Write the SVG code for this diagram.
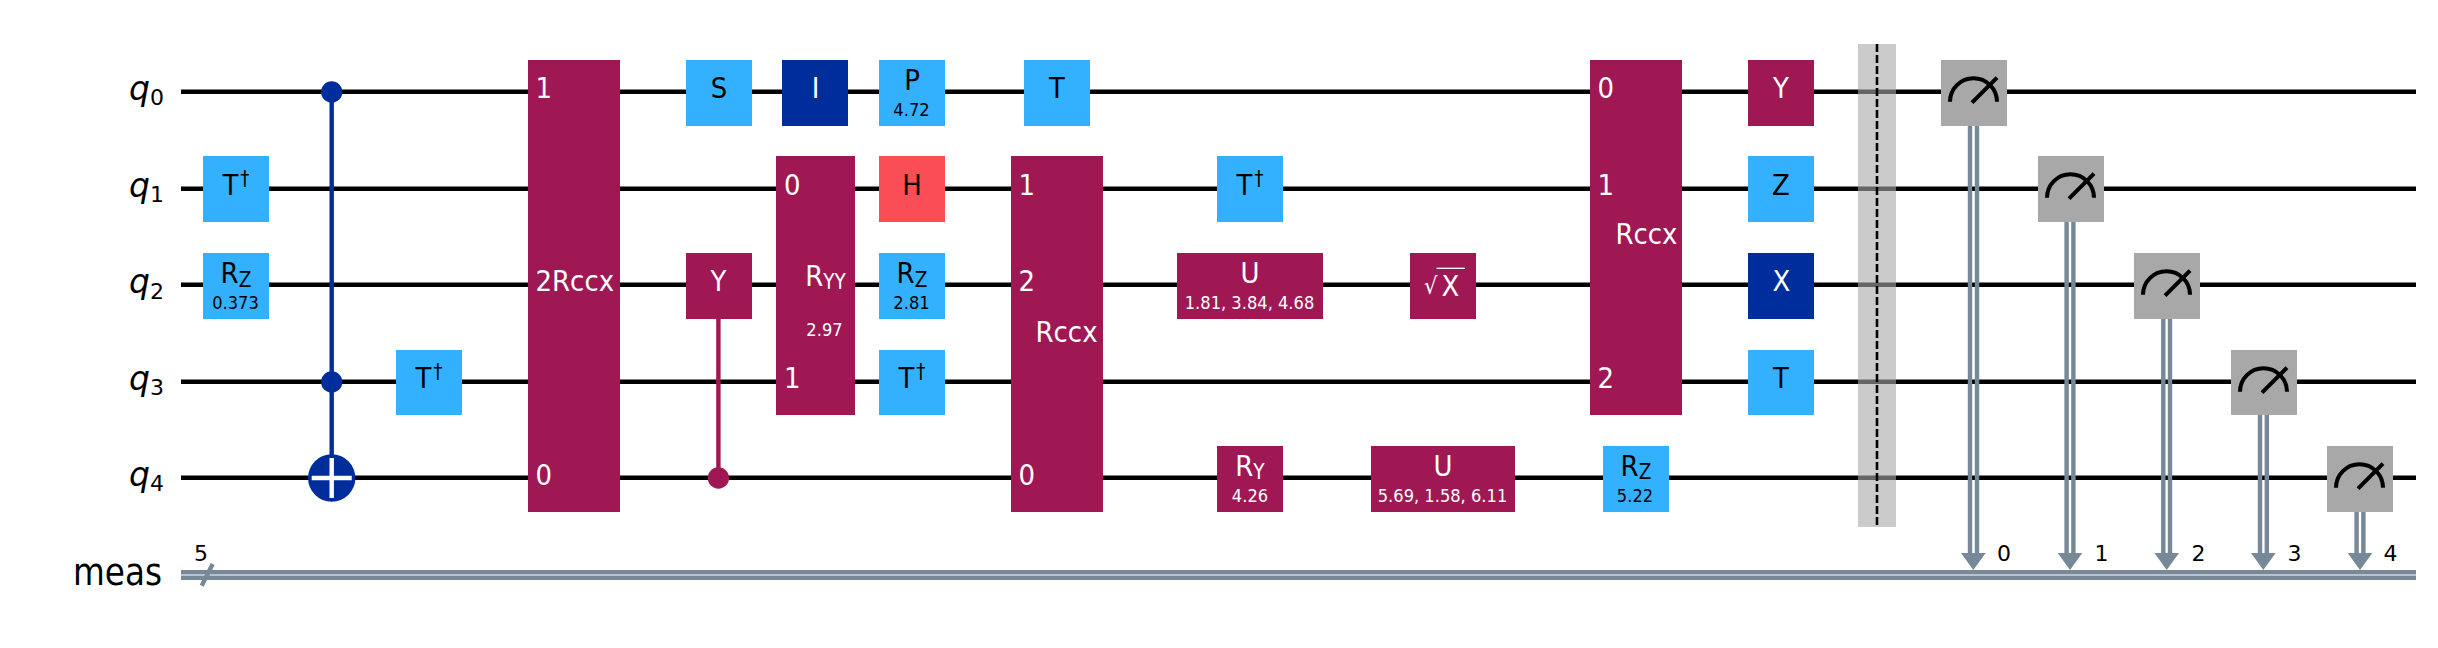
<svg xmlns="http://www.w3.org/2000/svg" width="2438" height="648" viewBox="0 0 2438 648">
<style>
text{font-family:"DejaVu Sans",sans-serif;font-size:26px;fill:#000}
.w{fill:#fff}
.c{text-anchor:middle}
.p{font-size:16.300px}
.s{font-size:18.500px}
.l{font-size:22px}
.b{fill:#33b1ff}.m{fill:#9f1853}.d{fill:#002d9c}.r{fill:#fa4d56}.g{fill:#a8a8a8}
.wire{stroke:#000;stroke-width:4.4;fill:none}
.cl{stroke:#778899;stroke-width:4.4;fill:none}
.q{font-size:33px;font-style:italic}
.sb{font-size:22px;font-style:normal}
.meter{fill:none;stroke:#000;stroke-width:4}
</style>
<defs>
<g id="meter"><path class="meter" d="M9 41.700A23.500 23.500 0 0 1 56 41.700M31 42.700L56 17.700"/></g>
</defs>
<rect width="2438" height="648" fill="#fff"/>
<g id="labels">
<text class="q" x="129" y="100">q<tspan class="sb" x="150" y="105">0</tspan></text>
<text class="q" x="129" y="197">q<tspan class="sb" x="150" y="202">1</tspan></text>
<text class="q" x="129" y="293">q<tspan class="sb" x="150" y="298.500">2</tspan></text>
<text class="q" x="129" y="390">q<tspan class="sb" x="150" y="395">3</tspan></text>
<text class="q" x="129" y="486">q<tspan class="sb" x="150" y="491">4</tspan></text>
<text x="73" transform="matrix(1 0 0 1.120 0 585)" style="font-size:32.700px">meas</text>
<text class="l c" x="201" y="561">5</text>
</g>
<g id="connectors">
<path class="wire" d="M181 91.700H2416M181 188.700H2416M181 284.700H2416M181 381.700H2416M181 477.700H2416"/>
<path class="cl" d="M181 572.300H2416M181 577.800H2416M201.700 585.700L212.700 564"/>
<path stroke="#002d9c" stroke-width="4.400" d="M331.700 92V478"/>
<path stroke="#9f1853" stroke-width="4.400" d="M718.400 319V478"/>
<path class="cl" d="M1970 126V555M1977 126V555M2066.600 222V555M2073.400 222V555M2163.300 319V555M2170 319V555M2260 415V555M2266.800 415V555M2356.600 512V555M2363.400 512V555"/>
<path fill="#778899" d="M1961 553H1985.700L1973.300 570ZM2057.700 553H2082.300L2070 570ZM2154.400 553H2179L2166.700 570ZM2251 553H2275.700L2263.300 570ZM2347.700 553H2372.300L2360 570Z"/>
</g>
<g id="cx1"><circle class="d" cx="331.700" cy="92" r="10.700"/><circle class="d" cx="331.700" cy="382" r="10.700"/><circle class="d" cx="331.700" cy="478" r="23.700"/><path stroke="#fff" stroke-width="4.400" d="M331.700 458V498M311.700 478H351.700"/></g>
<g id="tdg1"><rect class="b" x="203" y="156" width="66" height="66"/><text class="c" x="236" transform="matrix(1 0 0 1.120 0 195.300)">T<tspan dx="2" dy="-8.500" class="s">†</tspan></text></g>
<g id="rz1"><rect class="b" x="203" y="253" width="66" height="66"/><text class="c" x="236" transform="matrix(1 0 0 1.120 0 283)">R<tspan dy="3.300" class="s">Z</tspan></text><text class="c p" x="235.500" transform="matrix(1 0 0 1.120 0 309)">0.373</text></g>
<g id="tdg2"><rect class="b" x="396" y="350" width="66" height="65"/><text class="c" x="429" transform="matrix(1 0 0 1.120 0 388.300)">T<tspan dx="2" dy="-8.500" class="s">†</tspan></text></g>
<g id="rccx1"><rect class="m" x="528" y="60" width="92" height="452"/><text class="w" x="535.500" transform="matrix(1 0 0 1.120 0 98.200)">1</text><text class="w" x="535.500" transform="matrix(1 0 0 1.120 0 291.200)">2Rccx</text><text class="w" x="535.500" transform="matrix(1 0 0 1.120 0 485)">0</text></g>
<g id="s"><rect class="b" x="686" y="60" width="66" height="66"/><text class="c" x="719" transform="matrix(1 0 0 1.120 0 98.200)">S</text></g>
<g id="cy"><rect class="m" x="686" y="253" width="66" height="66"/><text class="c w" x="718.500" transform="matrix(1 0 0 1.120 0 291.200)">Y</text><circle class="m" cx="718.400" cy="478" r="10.700"/></g>
<g id="i"><rect class="d" x="782" y="60" width="66" height="66"/><text class="c w" x="815.500" transform="matrix(1 0 0 1.120 0 98.200)">I</text></g>
<g id="ryy"><rect class="m" x="776" y="156" width="79" height="259"/><text class="w" x="784" transform="matrix(1 0 0 1.120 0 195.300)">0</text><text class="w" x="784" transform="matrix(1 0 0 1.120 0 388.300)">1</text><text class="c w" x="825.500" transform="matrix(1 0 0 1.120 0 286.400)">R<tspan dy="2.300" class="s">YY</tspan></text><text class="c w p" x="824.500" transform="matrix(1 0 0 1.120 0 336)">2.97</text></g>
<g id="p"><rect class="b" x="879" y="60" width="66" height="66"/><text class="c" x="912" transform="matrix(1 0 0 1.120 0 90)">P</text><text class="c p" x="911.500" transform="matrix(1 0 0 1.120 0 115.500)">4.72</text></g>
<g id="h"><rect class="r" x="879" y="156" width="66" height="66"/><text class="c" x="912" transform="matrix(1 0 0 1.120 0 195.300)">H</text></g>
<g id="rz2"><rect class="b" x="879" y="253" width="66" height="66"/><text class="c" x="912" transform="matrix(1 0 0 1.120 0 283)">R<tspan dy="3.300" class="s">Z</tspan></text><text class="c p" x="911.500" transform="matrix(1 0 0 1.120 0 309)">2.81</text></g>
<g id="tdg3"><rect class="b" x="879" y="350" width="66" height="65"/><text class="c" x="912" transform="matrix(1 0 0 1.120 0 388.300)">T<tspan dx="2" dy="-8.500" class="s">†</tspan></text></g>
<g id="t1"><rect class="b" x="1024" y="60" width="66" height="66"/><text class="c" x="1057" transform="matrix(1 0 0 1.120 0 98.200)">T</text></g>
<g id="rccx2"><rect class="m" x="1011" y="156" width="92" height="356"/><text class="w" x="1018.500" transform="matrix(1 0 0 1.120 0 195.300)">1</text><text class="w" x="1018.500" transform="matrix(1 0 0 1.120 0 291.200)">2</text><text class="w" x="1018.500" transform="matrix(1 0 0 1.120 0 485)">0</text><text class="w" x="1035.500" transform="matrix(1 0 0 1.120 0 341.500)">Rccx</text></g>
<g id="tdg4"><rect class="b" x="1217" y="156" width="66" height="66"/><text class="c" x="1250" transform="matrix(1 0 0 1.120 0 195.300)">T<tspan dx="2" dy="-8.500" class="s">†</tspan></text></g>
<g id="u1"><rect class="m" x="1177" y="253" width="146" height="66"/><text class="c w" x="1250" transform="matrix(1 0 0 1.120 0 283.300)">U</text><text class="c w p" x="1249.500" transform="matrix(1 0 0 1.120 0 309.300)">1.81, 3.84, 4.68</text></g>
<g id="sx"><rect class="m" x="1410" y="253" width="66" height="66"/><text class="w" x="1424" transform="matrix(1 0 0 1.100 0 294)" style="font-size:21px">√</text><path stroke="#fff" stroke-width="1.300" d="M1436.500 268.300H1465"/><text class="c w" x="1450.500" transform="matrix(1 0 0 1.120 0 296)">X</text></g>
<g id="ry"><rect class="m" x="1217" y="446" width="66" height="66"/><text class="c w" x="1250" transform="matrix(1 0 0 1.120 0 475.700)">R<tspan dy="3.300" class="s">Y</tspan></text><text class="c w p" x="1250" transform="matrix(1 0 0 1.120 0 502)">4.26</text></g>
<g id="u2"><rect class="m" x="1371" y="446" width="144" height="66"/><text class="c w" x="1443" transform="matrix(1 0 0 1.120 0 476)">U</text><text class="c w p" x="1442.500" transform="matrix(1 0 0 1.120 0 502)">5.69, 1.58, 6.11</text></g>
<g id="rccx3"><rect class="m" x="1590" y="60" width="92" height="355"/><text class="w" x="1597.500" transform="matrix(1 0 0 1.120 0 98.200)">0</text><text class="w" x="1597.500" transform="matrix(1 0 0 1.120 0 195.300)">1</text><text class="w" x="1597.500" transform="matrix(1 0 0 1.120 0 388.300)">2</text><text class="w" x="1615.500" transform="matrix(1 0 0 1.120 0 243.800)">Rccx</text></g>
<g id="rz3"><rect class="b" x="1603" y="446" width="66" height="66"/><text class="c" x="1636" transform="matrix(1 0 0 1.120 0 475.700)">R<tspan dy="3.300" class="s">Z</tspan></text><text class="c p" x="1635" transform="matrix(1 0 0 1.120 0 502)">5.22</text></g>
<g id="y"><rect class="m" x="1748" y="60" width="66" height="66"/><text class="c w" x="1781" transform="matrix(1 0 0 1.120 0 98.200)">Y</text></g>
<g id="z"><rect class="b" x="1748" y="156" width="66" height="66"/><text class="c" x="1781" transform="matrix(1 0 0 1.120 0 195.300)">Z</text></g>
<g id="x"><rect class="d" x="1748" y="253" width="66" height="66"/><text class="c w" x="1781.500" transform="matrix(1 0 0 1.120 0 291.200)">X</text></g>
<g id="t2"><rect class="b" x="1748" y="350" width="66" height="65"/><text class="c" x="1781" transform="matrix(1 0 0 1.120 0 388.300)">T</text></g>
<g id="barrier"><rect x="1858" y="44" width="38" height="483" fill="#a8a8a8" fill-opacity="0.6"/><path stroke="#000" stroke-width="2.600" stroke-dasharray="8 3" d="M1877 44V527"/></g>
<g id="m0"><rect class="g" x="1941" y="60" width="66" height="66"/><use href="#meter" x="1941" y="60"/></g>
<g id="m1"><rect class="g" x="2038" y="156" width="66" height="66"/><use href="#meter" x="2038" y="156"/></g>
<g id="m2"><rect class="g" x="2134" y="253" width="66" height="66"/><use href="#meter" x="2134" y="253"/></g>
<g id="m3"><rect class="g" x="2231" y="350" width="66" height="65"/><use href="#meter" x="2231" y="350"/></g>
<g id="m4"><rect class="g" x="2327" y="446" width="66" height="66"/><use href="#meter" x="2327" y="446"/></g>
<g id="cbits"><text class="l c" x="2004" y="561">0</text><text class="l c" x="2101.500" y="561">1</text><text class="l c" x="2198.500" y="561">2</text><text class="l c" x="2294.500" y="561">3</text><text class="l c" x="2390.500" y="561">4</text></g>
</svg>
